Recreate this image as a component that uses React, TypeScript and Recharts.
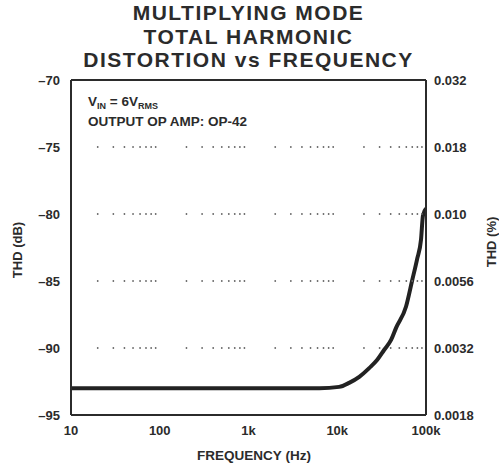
import {
  ComposedChart,
  Line,
  XAxis,
  YAxis,
  ReferenceLine,
  ReferenceDot,
} from "recharts";

// frequency (Hz) and THD (dB)
const freq = [10, 30, 100, 300, 1000, 3000, 6300, 10500, 13600, 17700, 22900, 28100, 33700, 40400, 46000, 59600, 69600, 79200, 87900, 92500, 100000];
const thdDb = [-93.0, -93.0, -93.0, -93.0, -93.0, -93.0, -93.0, -92.9, -92.6, -92.15, -91.5, -90.9, -90.15, -89.4, -88.5, -86.9, -85.0, -83.4, -81.9, -80.1, -79.6];

const xTicks = [10, 100, 1000, 10000, 100000];
const xTickLabels = ["10", "100", "1k", "10k", "100k"];
const dbTicks = [-70, -75, -80, -85, -90, -95];
const pctLabels = ["0.032", "0.018", "0.010", "0.0056", "0.0032", "0.0018"];

// dotted grid: minor log positions at the inner dB levels
const gridLevels = [-75, -80, -85, -90];
const gridFreqs = [
  20, 30, 40, 50, 60, 70, 80, 90,
  200, 300, 400, 500, 600, 700, 800, 900,
  2000, 3000, 4000, 5000, 6000, 7000, 8000, 9000,
  20000, 30000, 40000, 50000, 60000, 70000, 80000, 90000,
];

const titleLines = ["MULTIPLYING MODE", "TOTAL HARMONIC", "DISTORTION vs FREQUENCY"];

const curve = freq.map((f, i) => ({ f, db: thdDb[i] }));

const ink = "#2b2b2b";
const font = "'Liberation Sans', Arial, sans-serif";

export default function App() {
  const tickStyle = { fontSize: 13, fontWeight: 700, fill: ink, fontFamily: font };
  return (
    <div style={{ position: "absolute", left: 0, top: 0, width: 499, height: 466, background: "#fff", fontFamily: font, color: ink }}>
      <div
        style={{
          position: "absolute",
          left: 0,
          top: 1,
          width: 497,
          textAlign: "center",
          fontSize: 21,
          lineHeight: "23.5px",
          letterSpacing: 1.5,
          fontWeight: 700,
        }}
      >
        {titleLines.map((t) => (
          <div key={t}>{t}</div>
        ))}
      </div>

      <ComposedChart width={499} height={466} data={curve} margin={{ top: 80, right: 0, bottom: 0, left: 0 }}>
        <XAxis
          dataKey="f"
          type="number"
          scale="log"
          domain={[10, 100000]}
          ticks={xTicks}
          tickFormatter={(v) => xTickLabels[xTicks.indexOf(v)]}
          tick={tickStyle}
          tickLine={false}
          tickMargin={5}
          height={51}
          stroke={ink}
          strokeWidth={2}
          allowDataOverflow
        />
        <YAxis
          yAxisId="db"
          type="number"
          domain={[-95, -70]}
          ticks={dbTicks}
          tickFormatter={(v) => String(v).replace("-", "\u2013")}
          tick={tickStyle}
          tickLine={false}
          tickMargin={5}
          width={71}
          stroke={ink}
          strokeWidth={2}
        />
        <YAxis
          yAxisId="pct"
          orientation="right"
          type="number"
          domain={[-95, -70]}
          ticks={dbTicks}
          tickFormatter={(v) => pctLabels[dbTicks.indexOf(v)]}
          tick={tickStyle}
          tickLine={false}
          width={73}
          stroke={ink}
          strokeWidth={2}
        />
        <ReferenceLine yAxisId="db" y={-70} stroke={ink} strokeWidth={2} />
        {gridLevels.map((lv) =>
          gridFreqs.map((g) => (
            <ReferenceDot key={`${lv}-${g}`} yAxisId="db" x={g} y={lv} r={0.9} fill="#666" stroke="none" />
          ))
        )}
        {/* same curve on the % axis so that axis gets drawn; invisible */}
        <Line
          yAxisId="pct"
          type="monotone"
          dataKey="db"
          stroke="none"
          dot={false}
          activeDot={false}
          isAnimationActive={false}
        />
        <Line
          yAxisId="db"
          type="monotone"
          dataKey="db"
          stroke="#222"
          strokeWidth={4}
          dot={false}
          isAnimationActive={false}
        />
      </ComposedChart>

      <div style={{ position: "absolute", left: 88, top: 94, fontSize: 13.5, fontWeight: 700, lineHeight: "15px" }}>
        <div>
          V<span style={{ fontSize: 9, verticalAlign: -3 }}>IN</span>
          {"  = 6V"}
          <span style={{ fontSize: 9, verticalAlign: -3 }}>RMS</span>
        </div>
        <div>OUTPUT OP AMP: OP-42</div>
      </div>

      <div
        style={{
          position: "absolute",
          left: 17,
          top: 250,
          transform: "translate(-50%, -50%) rotate(-90deg)",
          fontSize: 13,
          fontWeight: 700,
          whiteSpace: "nowrap",
        }}
      >
        THD (dB)
      </div>
      <div
        style={{
          position: "absolute",
          left: 491,
          top: 242,
          transform: "translate(-50%, -50%) rotate(-90deg)",
          fontSize: 13,
          fontWeight: 700,
          whiteSpace: "nowrap",
        }}
      >
        THD (%)
      </div>
      <div
        style={{
          position: "absolute",
          left: 254,
          top: 455,
          transform: "translate(-50%, -50%)",
          fontSize: 13.5,
          fontWeight: 700,
          whiteSpace: "nowrap",
        }}
      >
        FREQUENCY (Hz)
      </div>
    </div>
  );
}
